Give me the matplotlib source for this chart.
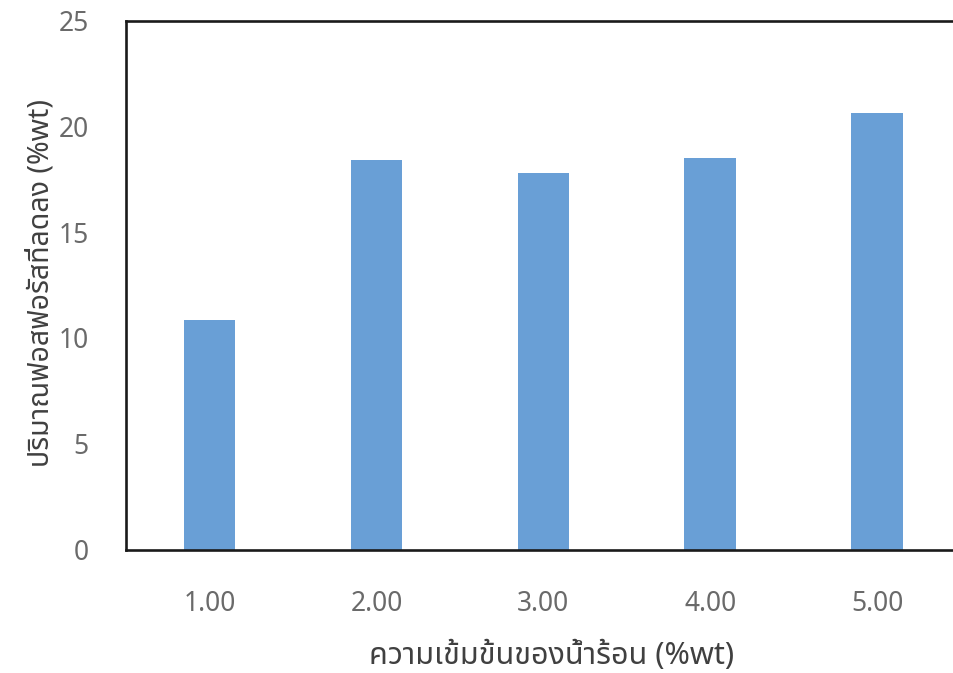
import matplotlib
matplotlib.use("Agg")
import matplotlib.pyplot as plt

# concentration of hot water (%wt) and phosphorus reduction (%wt)
concentrations = ["1.00", "2.00", "3.00", "4.00", "5.00"]
reduction = [10.85, 18.4, 17.8, 18.5, 20.65]

xlabel_text = "ความเข้มข้นของน้ำร้อน (%wt)"
ylabel_text = "ปริมาณฟอสฟอรัสที่ลดลง (%wt)"

plt.rcParams["font.family"] = ["Noto Sans Thai", "DejaVu Sans"]

fig = plt.figure(figsize=(9.54, 6.73), dpi=100)
ax = fig.add_axes([0.1321, 0.1835, 0.875, 0.786])

x = range(1, len(reduction) + 1)
ax.bar(x, reduction, width=0.31, color="#699fd6", zorder=2)

ax.set_xlim(0.5, 5.5)
ax.set_ylim(0, 25)
ax.set_yticks([0, 5, 10, 15, 20, 25])
ax.set_xticks(list(x))
ax.set_xticklabels(concentrations)

for s in ax.spines.values():
    s.set_linewidth(1.9)
    s.set_color("#1a1a1a")

ax.tick_params(axis="both", length=0, labelsize=19, labelcolor="#6a6a6a")
ax.tick_params(axis="x", pad=29)
ax.tick_params(axis="y", pad=27)

# axis titles placed in figure coordinates
fig.text(0.5786, 0.0253, xlabel_text, fontsize=22, color="#404040",
         ha="center", va="center")
fig.text(0.043, 0.579, ylabel_text, fontsize=20.5, color="#404040",
         ha="center", va="center", rotation=90)

fig.savefig("out.png", dpi=100)
